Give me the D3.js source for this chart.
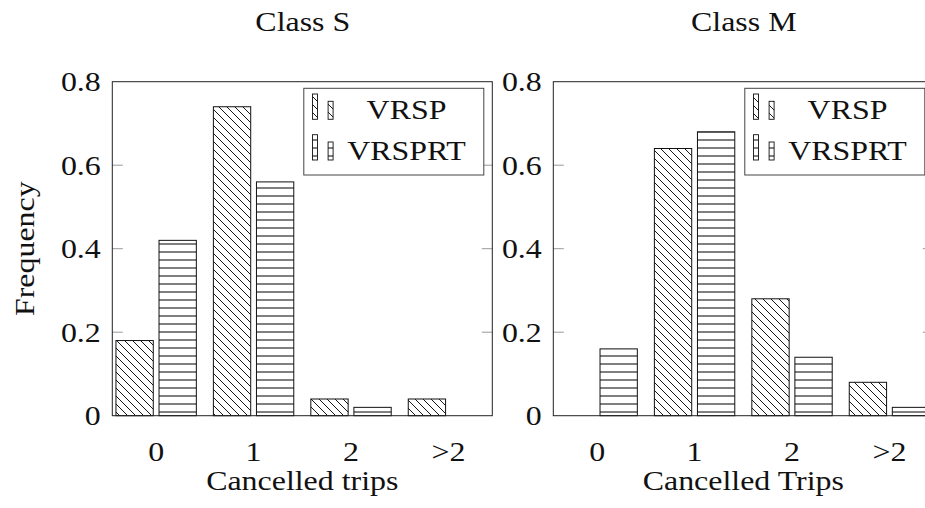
<!DOCTYPE html>
<html><head><meta charset="utf-8">
<script src="https://cdn.jsdelivr.net/npm/d3@7"></script>
<style>
body{margin:0;background:#fff}
text{font-family:"Liberation Serif","Times New Roman",serif;fill:#111;font-size:28px}
</style>
</head><body><svg id="c" width="925" height="508"></svg>
<script>
// ---- data ----
const categories = ["0", "1", "2", ">2"];
const seriesNames = ["VRSP", "VRSPRT"];
const classSVrsp   = [0.18, 0.74, 0.04, 0.04];
const classSVrsprt = [0.42, 0.56, 0.02, 0.00];
const classMVrsp   = [0.00, 0.64, 0.28, 0.08];
const classMVrsprt = [0.16, 0.68, 0.14, 0.02];
const yTicks = [0, 0.2, 0.4, 0.6, 0.8];
const yTickLabels = ["0", "0.2", "0.4", "0.6", "0.8"];
const panelTitles = ["Class S", "Class M"];
const xLabels = ["Cancelled trips", "Cancelled Trips"];
const yLabel = "Frequency";

// ---- layout ----
const SX = 1.14;             // horizontal stretch of the text (figure was stretched)
const panelX0 = [112.3, 553.3];
const W = 380, plotTop = 81.7, plotBottom = 415.7;
const svg = d3.select("#c");

const defs = svg.append("defs");
const pd = defs.append("pattern").attr("id", "pDiag").attr("patternUnits", "userSpaceOnUse")
  .attr("width", 8).attr("height", 8);
pd.append("path").attr("d", "M0,0L8,8M-1,7L1,9M7,-1L9,1")
  .attr("stroke", "#000").attr("stroke-width", 0.9).attr("fill", "none");
const ph = defs.append("pattern").attr("id", "pHor").attr("patternUnits", "userSpaceOnUse")
  .attr("width", 8).attr("height", 8);
ph.append("path").attr("d", "M0,4L8,4").attr("stroke", "#000").attr("stroke-width", 1).attr("fill", "none");
const fills = ["url(#pDiag)", "url(#pHor)"];

function txt(g, x, y, s, anchor, rot) {
  return g.append("text")
    .attr("transform", `translate(${x},${y}) rotate(${rot || 0}) scale(${SX},1)`)
    .attr("text-anchor", anchor || "middle")
    .text(s);
}

const yScale = d3.scaleLinear().domain([0, 0.8]).range([plotBottom, plotTop]);
const seriesData = [[classSVrsp, classSVrsprt], [classMVrsp, classMVrsprt]];

panelX0.forEach((x0, p) => {
  const g = svg.append("g");
  const x = d3.scaleLinear().domain([-0.45, 3.45]).range([x0, x0 + W]);
  const step = x(1) - x(0);
  const bw = step * 0.383, off = step * 0.221;

  // bars
  seriesData[p].forEach((vals, s) => {
    g.selectAll(null).data(vals).enter().append("rect")
      .attr("x", (d, i) => x(i) + (s === 0 ? -off : off) - bw / 2)
      .attr("y", d => yScale(d))
      .attr("width", bw)
      .attr("height", d => yScale(0) - yScale(d))
      .attr("fill", fills[s])
      .attr("stroke", d => d > 0 ? "#111" : "none")
      .attr("stroke-width", 1);
  });

  // inner ticks (left and right)
  const inner = yTicks.filter(t => t > 0 && t < 0.8);
  g.selectAll(null).data(inner).enter().append("line")
    .attr("x1", x0).attr("x2", x0 + 10.5)
    .attr("y1", d => yScale(d)).attr("y2", d => yScale(d))
    .attr("stroke", "#999").attr("stroke-width", 1);
  g.selectAll(null).data(inner).enter().append("line")
    .attr("x1", x0 + W - 10.5).attr("x2", x0 + W)
    .attr("y1", d => yScale(d)).attr("y2", d => yScale(d))
    .attr("stroke", "#999").attr("stroke-width", 1);

  // axis box
  g.append("rect").attr("x", x0).attr("y", plotTop).attr("width", W).attr("height", plotBottom - plotTop)
    .attr("fill", "none").attr("stroke", "#222").attr("stroke-width", 1);

  // y tick labels
  yTicks.forEach((t, i) => txt(g, x0 - 11.5, yScale(t) + 9.3, yTickLabels[i], "end"));
  // x tick labels
  categories.forEach((c, i) => txt(g, x(i), 461, c, "middle"));
  // x label
  txt(g, x0 + W / 2, 490, xLabels[p], "middle");
  // title
  txt(g, x0 + W / 2 + 0.5, 31, panelTitles[p], "middle");

  // legend
  const lx = x0 + 191.5, ly = 88.3;
  const lg = g.append("g");
  lg.append("rect").attr("x", lx).attr("y", ly).attr("width", 180).attr("height", 86.7)
    .attr("fill", "#fff").attr("stroke", "#444").attr("stroke-width", 1);
  seriesNames.forEach((n, s) => {
    const base = ly + 31 + s * 40.7;
    lg.append("rect").attr("x", lx + 8.7).attr("y", base - 25.3).attr("width", 5).attr("height", 25.3)
      .attr("fill", fills[s]).attr("stroke", "#111").attr("stroke-width", 0.9);
    lg.append("rect").attr("x", lx + 24.3).attr("y", base - 18).attr("width", 5).attr("height", 18)
      .attr("fill", fills[s]).attr("stroke", "#111").attr("stroke-width", 0.9);
    txt(lg, lx + 102.7, base, n, "middle");
  });
});

// y label
txt(svg, 34, (plotTop + plotBottom) / 2, yLabel, "middle", -90);
</script>
</body></html>
